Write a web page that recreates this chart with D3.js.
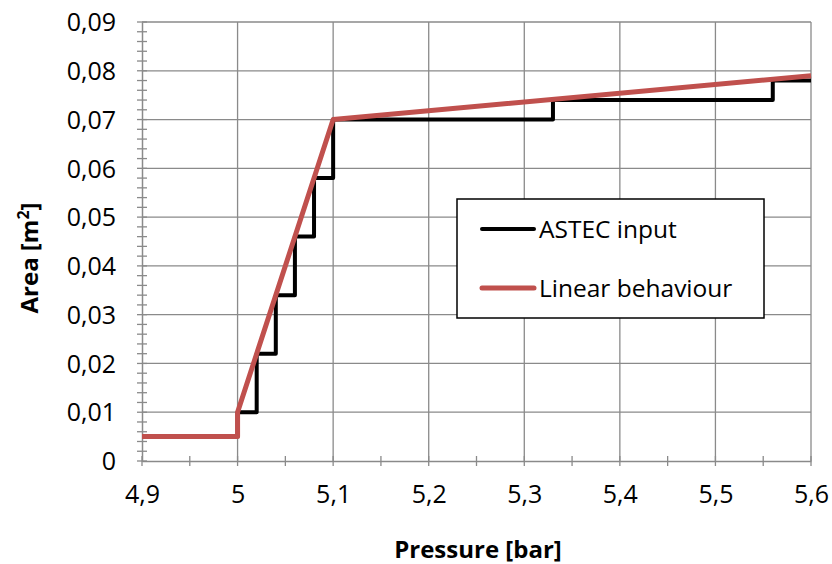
<!DOCTYPE html>
<html>
<head>
<meta charset="utf-8">
<script src="https://cdn.jsdelivr.net/npm/d3@7"></script>
<style>
  body { margin: 0; background: #fff; }
  svg text { font-family: "Open Sans", "Noto Sans", sans-serif; fill: #000; }
</style>
</head>
<body>
<svg id="chart" width="832" height="564"></svg>
<script>
// ASTEC input: stepwise area table (value holds until next pressure)
const astecPressure = [4.9, 5.0, 5.02, 5.04, 5.06, 5.08, 5.1, 5.33, 5.56, 5.6];
const astecArea     = [0.005, 0.01, 0.022, 0.034, 0.046, 0.058, 0.07, 0.074, 0.078, 0.078];

// Linear behaviour
const linearPressure = [4.9, 5.0, 5.0, 5.1, 5.6];
const linearArea     = [0.005, 0.005, 0.01, 0.07, 0.079];

const xTicks = [4.9, 5.0, 5.1, 5.2, 5.3, 5.4, 5.5, 5.6];
const yTicks = [0, 0.01, 0.02, 0.03, 0.04, 0.05, 0.06, 0.07, 0.08, 0.09];
const seriesNames = ["ASTEC input", "Linear behaviour"];

const svg = d3.select("#chart");
const margin = { left: 142, right: 20, top: 22, bottom: 103 };
const W = 832, H = 564;

const x = d3.scaleLinear().domain([4.9, 5.6]).range([margin.left, W - margin.right - 1]);
const y = d3.scaleLinear().domain([0, 0.09]).range([H - margin.bottom, margin.top]);

const gridColor = "#8a8a8a";
const fmt = d => d3.format("")(+d.toFixed(2)).replace(".", ",");

// gridlines
const grid = svg.append("g");
grid.selectAll(".gx").data(xTicks.slice(1)).join("line")
  .attr("x1", d => x(d)).attr("x2", d => x(d))
  .attr("y1", y(0)).attr("y2", y(0.09))
  .attr("stroke", gridColor).attr("stroke-width", 1.3);
grid.selectAll(".gy").data(yTicks.slice(1)).join("line")
  .attr("x1", x(4.9)).attr("x2", x(5.6))
  .attr("y1", d => y(d)).attr("y2", d => y(d))
  .attr("stroke", gridColor).attr("stroke-width", 1.3);

// minor ticks
const yMinor = d3.range(0, 0.0901, 0.002);
const xMinor = d3.range(4.9, 5.6001, 0.05);
svg.append("g").selectAll("line").data(yMinor).join("line")
  .attr("x1", x(4.9) - 5).attr("x2", x(4.9) + 5)
  .attr("y1", d => y(d)).attr("y2", d => y(d))
  .attr("stroke", gridColor).attr("stroke-width", 1.3);
svg.append("g").selectAll("line").data(xMinor).join("line")
  .attr("x1", d => x(d)).attr("x2", d => x(d))
  .attr("y1", y(0) - 5).attr("y2", y(0) + 5)
  .attr("stroke", gridColor).attr("stroke-width", 1.3);

// axes
const xAxis = d3.axisBottom(x).tickValues(xTicks).tickFormat(fmt).tickSize(0).tickPadding(24);
const yAxis = d3.axisLeft(y).tickValues(yTicks).tickFormat(fmt).tickSize(0).tickPadding(26);

const gx = svg.append("g").attr("transform", `translate(0,${y(0)})`).call(xAxis);
const gy = svg.append("g").attr("transform", `translate(${x(4.9)},0)`).call(yAxis);
[gx, gy].forEach(g => {
  g.select(".domain").attr("stroke", gridColor).attr("stroke-width", 1.5);
  g.selectAll("text").attr("font-size", 25).attr("font-family", "Open Sans");
});
gy.selectAll("text").attr("dy", "0.35em");

// series
const lineGen = d3.line().x(d => x(d[0])).y(d => y(d[1]));
svg.append("path")
  .datum(d3.zip(astecPressure, astecArea))
  .attr("d", lineGen.curve(d3.curveStepAfter))
  .attr("fill", "none").attr("stroke", "#000").attr("stroke-width", 4)
  .attr("stroke-linejoin", "round");
svg.append("path")
  .datum(d3.zip(linearPressure, linearArea))
  .attr("d", d3.line().x(d => x(d[0])).y(d => y(d[1]))(d3.zip(linearPressure, linearArea)))
  .attr("fill", "none").attr("stroke", "#c0504d").attr("stroke-width", 5)
  .attr("stroke-linejoin", "round");

// axis titles
svg.append("text")
  .attr("x", 478).attr("y", 558)
  .attr("text-anchor", "middle").attr("font-weight", "bold").attr("font-size", 24)
  .text("Pressure [bar]");
const yt = svg.append("text")
  .attr("transform", "translate(38,258) rotate(-90)")
  .attr("text-anchor", "middle").attr("font-weight", "bold").attr("font-size", 24);
yt.append("tspan").text("Area [m");
yt.append("tspan").attr("font-size", 16).attr("dy", -9).text("2");
yt.append("tspan").attr("dy", 9).text("]");

// legend
const lg = svg.append("g");
lg.append("rect").attr("x", 457).attr("y", 199).attr("width", 307).attr("height", 119)
  .attr("fill", "#fff").attr("stroke", "#000").attr("stroke-width", 1.5);
const colors = ["#000", "#c0504d"];
const widths = [4, 5];
seriesNames.forEach((name, i) => {
  const cy = 229 + i * 59;
  lg.append("line").attr("x1", 482).attr("x2", 534).attr("y1", cy).attr("y2", cy)
    .attr("stroke", colors[i]).attr("stroke-width", widths[i]).attr("stroke-linecap", "round");
  lg.append("text").attr("x", 539).attr("y", cy).attr("dy", "0.35em")
    .attr("font-size", 24.5).text(name);
});
</script>
</body>
</html>
